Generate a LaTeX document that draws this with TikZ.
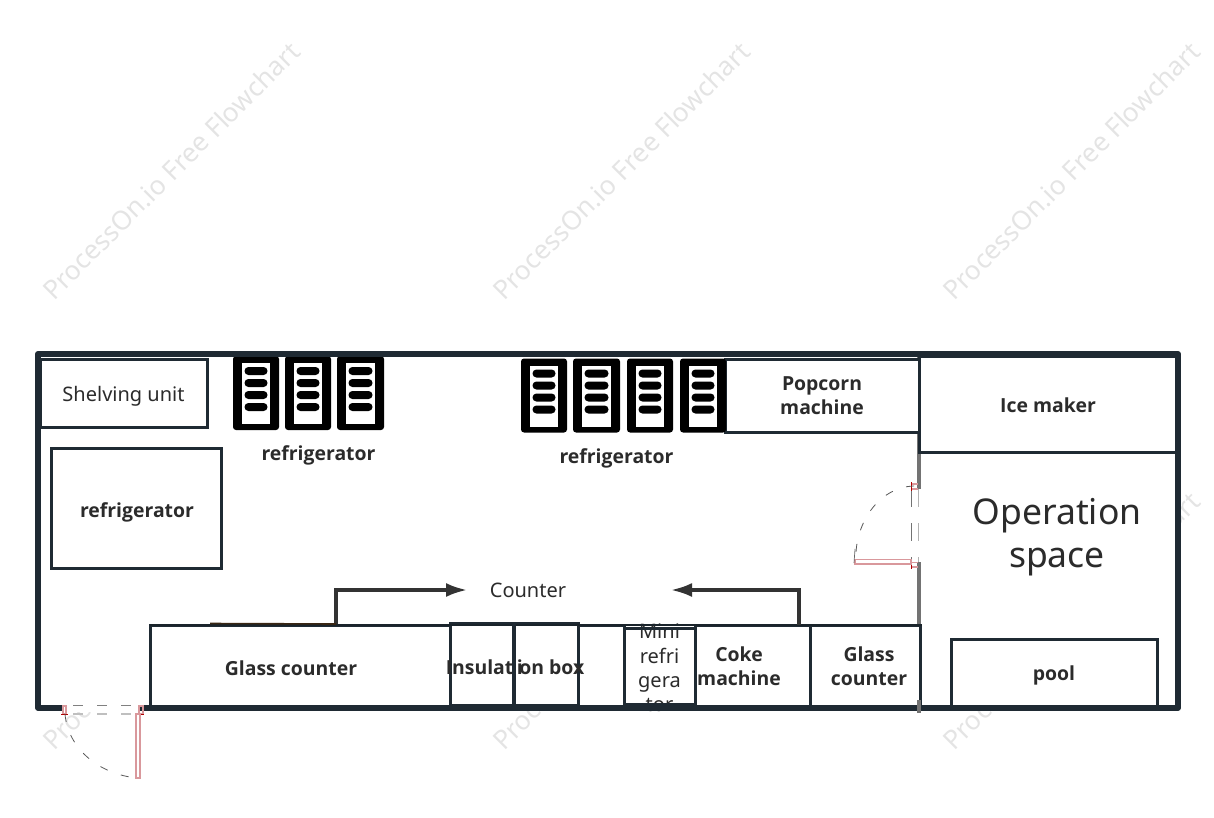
\documentclass[tikz,border=0pt]{standalone}
\usepackage{fontspec}
\setmainfont{Noto Sans}
\newfontfamily\strongfont{Open Sans}
\usetikzlibrary{arrows.meta}
\definecolor{wall}{HTML}{1F2A33}
\definecolor{txt}{HTML}{2B2B2B}
\definecolor{mark}{HTML}{E4E4E4}
\definecolor{doorred}{HTML}{D9989C}
\tikzset{
  x=1pt,y=-1pt,
  box/.style={draw=wall,line width=3pt,fill=white,outer sep=0pt,inner sep=0pt,anchor=north west},
  plain/.style={text=txt,font=\fontsize{20}{24}\selectfont,align=center,inner sep=0pt},
  strong/.style={text=txt,font=\strongfont\bfseries\fontsize{19.4}{24}\selectfont,align=center,inner sep=0pt},
  watermark/.style={text=mark,font=\fontsize{26.4}{30}\selectfont,rotate=45,inner sep=0pt},
  flow/.style={draw=black!80,line width=3.2pt,-{Latex[length=21pt,width=14pt]}},
  doorleaf/.style={draw=doorred,line width=1.1pt},
  doorarc/.style={draw=black!65,line width=0.8pt,dash pattern=on 8pt off 14pt},
  doordash/.style={draw=black!50,line width=1pt,dash pattern=on 10pt off 14pt},
  doordashb/.style={draw=black!25,line width=2pt,dash pattern=on 10pt off 14pt},
  hinge/.style={draw=red!70!black,line width=0.9pt},
}
\newcommand{\fridge}[4]{% x0,x1,y0,y1
  \fill[black,rounded corners=3pt] (#1,#3) rectangle (#2,#4);
  \fill[white] ({#1+9},{#3+7}) rectangle ({#2-9},{#4-6});
  \foreach \k in {15,27,39,51}{
    \fill[black,rounded corners=3.9pt] ({#1+11.5},{#3+\k-4}) rectangle ({#2-11.5},{#3+\k+4});
  }
}
\begin{document}
\begin{tikzpicture}
\useasboundingbox (0,0) rectangle (1214,818);
% watermarks
\foreach \cx/\cy in {171/171,621/171,1071/171,171/621,621/621,1071/621}{
  \node[watermark] (wm\cx\cy) at (\cx,\cy) {ProcessOn.io Free Flowchart};
}
% room
\fill[white] (38,354) rectangle (1178,708);
% divider
\draw[draw=black!55,line width=3.2pt] (919,352) -- (919,489);
\draw[draw=black!55,line width=3.2pt] (919,562) -- (919,713);
% boxes
\node[box,minimum width=167pt,minimum height=68pt] (shelf) at (40,359) {};
\node[box,minimum width=170pt,minimum height=120pt] (fridgeA) at (51,448) {};
\node[box,minimum width=194pt,minimum height=73pt] (popcorn) at (725,359.5) {};
\node[box,minimum width=257pt,minimum height=96pt] (ice) at (919,356) {};
\node[box,minimum width=206pt,minimum height=69pt] (pool) at (951,639) {};
\node[box,minimum width=300pt,minimum height=82pt] (glassA) at (150,625) {};
\node[box,minimum width=115pt,minimum height=81pt] (coke) at (695,625) {};
\node[box,minimum width=110pt,minimum height=82pt] (glassB) at (810,625) {};
\node[box,minimum width=46pt,minimum height=82pt] (gapbox) at (578,625) {};
\node[box,minimum width=64pt,minimum height=82pt] (insA) at (450,623) {};
\node[box,minimum width=64pt,minimum height=82pt] (insB) at (514,623) {};
% mini fridge text sits under its outline and the walls
\node[box,minimum width=71pt,minimum height=76pt] (mini) at (624,628) {};
\node[plain,text width=60pt] (minitext) at (659.5,668) {\fontsize{20}{24.3}\selectfont Mini\\refri\\gera\\tor};
\draw[draw=wall,line width=3pt] (mini.north west) rectangle (mini.south east);
\draw[draw=wall,line width=3pt] (gapbox.north west) -- (gapbox.north east);
% fridge icons
\fridge{233}{279}{356}{430}
\fridge{285}{331}{356}{430}
\fridge{337}{384}{356}{430}
\fridge{521}{567}{358.5}{432.5}
\fridge{573}{620}{358.5}{432.5}
\fridge{627}{673}{358.5}{432.5}
\fridge{680}{726}{358.5}{432.5}
% outer wall
\draw[draw=wall,line width=5.8pt,line join=round] (38,354) rectangle (1178,708);
\draw[draw=black!55,line width=3.2pt] (919,700) -- (919,713);
\draw[draw=wall!85!black,line width=2.8pt] (150,625) -- (922,625);
% labels
\node[plain] (lshelf) at (123.5,396) {Shelving unit};
\node[strong] (lfa) at (137,512) {refrigerator};
\node[strong] (lfb) at (318.5,455) {refrigerator};
\node[strong] (lfc) at (616.5,458) {refrigerator};
\node[strong] (lpop) at (822,396) {Popcorn\\machine};
\node[strong] (lice) at (1048,405) {Ice maker};
\node[plain,font=\fontsize{35.5}{43}\selectfont] (lop) at (1057,537) {Operation\\space};
\node[strong] (lpool) at (1054,675) {pool};
\node[strong] (lglassA) at (291,668) {Glass counter};
\node[strong] (lins) at (515,667) {Insulat\kern3.5pt i\kern-3.5pt on box};
\draw[draw=wall,line width=3.4pt] (insB.north west) -- (insB.south west);
\node[strong] (lcoke) at (739,666) {Coke\\machine};
\node[strong] (lglassB) at (869,666) {Glass\\counter};
\node[plain] (lcounter) at (528,590) {Counter};
% connectors
\coordinate (arrA) at (336,624);
\coordinate (arrB) at (799,625);
\coordinate (tipA) at (467,590);
\coordinate (tipB) at (671,590);
\draw[flow] (arrA) |- (tipA);
\draw[flow] (arrB) |- (tipB);
\draw[draw=black!70!brown,line width=1.6pt] (210,623.5) -- (arrA);
% front door: gap in the wall
\fill[white] (63,704) rectangle (140,712);
\draw[doordash] (73,705) -- (138,705);
\draw[doordashb] (73,714) -- (138,714);
\draw[doorleaf] (63,706) rectangle (66,714);
\draw[doorleaf] (139,706) rectangle (143,714);
\draw[hinge] (61,714) -- (68,714);
\draw[hinge] (137,714) -- (144,714);
\draw[doorleaf] (136,714) rectangle (140,778);
\draw[doorarc] (65,714) .. controls (68,748) and (98,774) .. (137,778);
% side door: gap in the divider
\fill[white] (917,489) rectangle (921,562);
\draw[draw=black!55,line width=1pt,dash pattern=on 18pt off 16pt] (911,489) -- (911,562);
\draw[draw=black!30,line width=1pt,dash pattern=on 18pt off 16pt] (918.5,489) -- (918.5,562);
\draw[doorleaf] (911,484) -- (918,484) (911,489) -- (918,489);
\draw[hinge] (911,482) -- (911,491);
\draw[doorleaf] (911,562.5) -- (918,562.5) (911,567) -- (918,567);
\draw[hinge] (911,560) -- (911,569);
\draw[doorleaf] (855,559.5) rectangle (911,564);
\draw[draw=black!60,line width=0.7pt] (855,549) -- (854,563);
\draw[doorarc] (914,486) .. controls (880,487) and (858,520) .. (856,552);
\end{tikzpicture}
\end{document}
